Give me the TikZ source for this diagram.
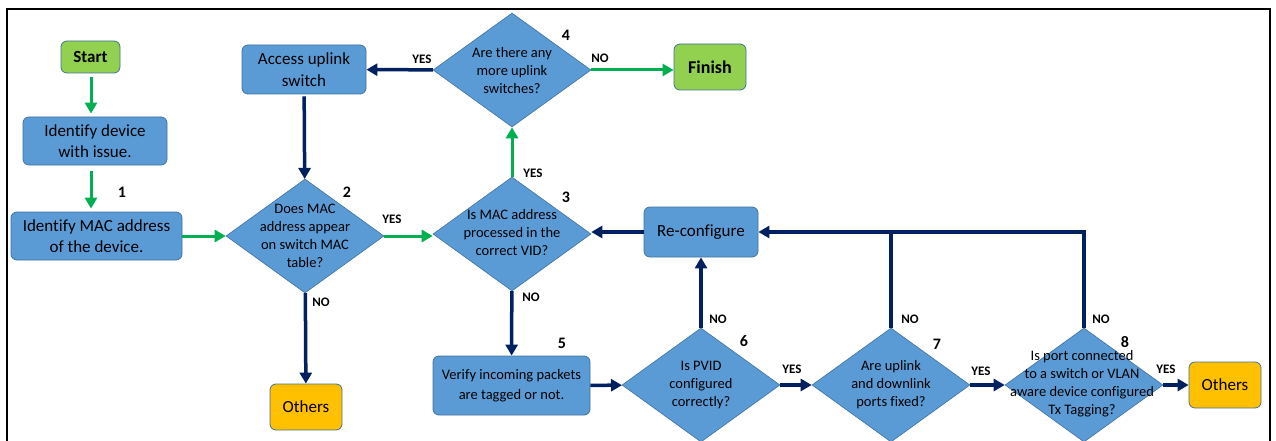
\documentclass[tikz,border=0pt]{standalone}
\usepackage{fontspec}
\setmainfont{Carlito}[Ligatures=NoCommon]
\usetikzlibrary{shapes.geometric,arrows.meta}
\definecolor{boxblue}{HTML}{5B9BD5}
\definecolor{boxedge}{HTML}{41719C}
\definecolor{startgreen}{HTML}{92D050}
\definecolor{othersorange}{HTML}{FFC000}
\definecolor{navy}{HTML}{002060}
\definecolor{flowgreen}{HTML}{00B050}
\begin{document}
\begin{tikzpicture}[x=1pt,y=-1pt,
  box/.style={draw=boxedge, fill=boxblue, rounded corners=6pt, line width=0.8pt,
    inner sep=0pt, align=center, font=\fontsize{17}{21.5}\selectfont},
  greenbox/.style={box, fill=startgreen, font=\bfseries\fontsize{17}{21}\selectfont},
  orangebox/.style={box, fill=othersorange},
  dia/.style={diamond, draw=boxedge, fill=boxblue, line width=0.6pt, inner sep=0pt,
    minimum width=158pt, minimum height=114pt},
  dtext/.style={align=center, inner sep=0pt, font=\fontsize{14.5}{18}\selectfont},
  lab/.style={inner sep=0pt, font=\bfseries\fontsize{13}{15}\selectfont},
  num/.style={inner sep=0pt, font=\bfseries\fontsize{16}{18}\selectfont},
  nav/.style={draw=navy, line width=3.5pt, -{Triangle[length=11pt,width=12pt]}},
  grn/.style={draw=flowgreen, line width=3pt, -{Triangle[length=11pt,width=12pt]}}
]
\useasboundingbox (0,0) rectangle (1276,441);
% open frame
\draw[line width=1.2pt] (7,441) -- (7,9) -- (1270,9) -- (1270,441);

% boxes
\node[greenbox, minimum width=59pt, minimum height=32pt] (start) at (90.5,57) {Start};
\node[box, minimum width=144pt, minimum height=48pt] (dev) at (95,141) {Identify device\\with issue.};
\node[box, minimum width=171pt, minimum height=48pt] (mac) at (96.5,236) {Identify MAC address\\of the device.};
\node[box, minimum width=124pt, minimum height=49pt] (acc) at (304,69.5) {Access uplink\\switch};
\node[orangebox, minimum width=72pt, minimum height=46pt] (oth1) at (306,407) {Others};
\node[greenbox, minimum width=72pt, minimum height=46pt, font=\bfseries\fontsize{18}{21}\selectfont] (fin) at (710,67) {Finish};
\node[box, minimum width=114pt, minimum height=50pt] (rc) at (701,232) {Re-configure};
\node[box, minimum width=157pt, minimum height=59pt, font=\fontsize{14.5}{20}\selectfont] (ver) at (511.5,385.5) {Verify incoming packets\\are tagged or not.};
\node[orangebox, minimum width=72pt, minimum height=46pt] (oth2) at (1225,385) {Others};

% decisions
\node[dia] (d2) at (305,236) {};
\node[dtext] at (305,236) {Does MAC\\address appear\\on switch MAC\\table?};
\node[dia] (d3) at (512,234) {};
\node[dtext] at (512,233) {Is MAC address\\processed in the\\correct VID?};
\node[dia] (d4) at (512,70) {};
\node[dtext] at (512,71) {Are there any\\more uplink\\switches?};
\node[dia] (d6) at (701,385) {};
\node[dtext] at (701,385) {Is PVID\\configured\\correctly?};
\node[dia] (d7) at (891,385) {};
\node[dtext] at (891,385) {Are uplink\\and downlink\\ports fixed?};
\node[dia] (d8) at (1084,385) {};
\node[dtext] at (1082,384) {Is port connected\\to a switch or VLAN\\aware device configured\\Tx Tagging?};

% step numbers
\node[num] at (122,192) {1};
\node[num] at (347,192) {2};
\node[num] at (566,197) {3};
\node[num] at (566,35) {4};
\node[num] at (562,343) {5};
\node[num] at (744,341) {6};
\node[num] at (937,344) {7};
\node[num] at (1125,342) {8};

% connectors
\draw[grn, shorten <=4pt, shorten >=3pt] (start.south -| 91,0) -- (dev.north -| 91,0);
\draw[grn, shorten <=6pt, shorten >=3pt] (dev.south -| 91,0) -- (mac.north -| 91,0);
\draw[grn] (mac) -- (d2);
\draw[grn] (d2.east) -- (d3.west |- d2.east);
\draw[grn] (d3) -- (d4);
\draw[grn] (d4.east) -- (fin.west |- d4.east);
\draw[nav] (d4) -- (acc);
\draw[nav, shorten <=2pt] (acc) -- (d2);
\draw[nav] (d2) -- (oth1);
\draw[nav] (d3) -- (ver);
\draw[nav] (rc) -- (d3.east |- rc.west);
\draw[nav] (ver) -- (d6);
\draw[nav] (d6) -- (rc);
\draw[nav] (d6) -- (d7);
\draw[nav] (d7) -- (d8);
\draw[nav] (d8) -- (oth2);
\draw[draw=navy, line width=3.5pt] (d7.north) -- (d7.north |- rc.east);
\draw[nav] (d8.north) |- (rc.east);

% branch labels
\node[lab] at (422,59) {YES};
\node[lab] at (600,58) {NO};
\node[lab] at (392,219) {YES};
\node[lab] at (321,302) {NO};
\node[lab] at (533,173) {YES};
\node[lab] at (531,297) {NO};
\node[lab] at (718,319) {NO};
\node[lab] at (792,369) {YES};
\node[lab] at (910,319) {NO};
\node[lab] at (981,371) {YES};
\node[lab] at (1101,319) {NO};
\node[lab] at (1166,369) {YES};
\end{tikzpicture}
\end{document}
